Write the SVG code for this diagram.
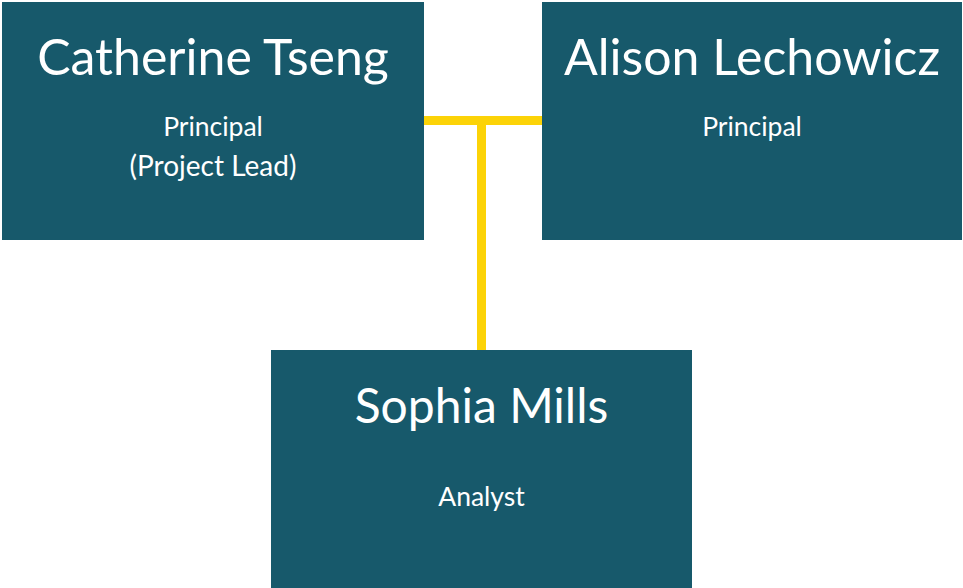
<svg xmlns="http://www.w3.org/2000/svg" width="963" height="588" viewBox="0 0 963 588">
<style>
.box{fill:#17596B}
.name{font-family:Lato,"Open Sans",sans-serif;font-size:50px;fill:#ffffff;text-anchor:middle}
.role{font-family:Lato,"Open Sans",sans-serif;font-size:26.5px;fill:#ffffff;text-anchor:middle}
.conn{stroke:#FCD307;stroke-width:9;fill:none}
</style>
<rect width="963" height="588" fill="#ffffff"/>
<g id="connectors">
<line class="conn" x1="424" y1="120.5" x2="542" y2="120.5"/>
<line class="conn" x1="481.5" y1="120" x2="481.5" y2="350"/>
</g>
<g id="catherine">
<rect class="box" x="2" y="2" width="422" height="238"/>
<text class="name" x="213" y="75">Catherine Tseng</text>
<text class="role" x="213" y="136">Principal</text>
<text class="role" x="213" y="176" style="font-size:28px">(Project Lead)</text>
</g>
<g id="alison">
<rect class="box" x="542" y="2" width="420" height="238"/>
<text class="name" x="752" y="75">Alison Lechowicz</text>
<text class="role" x="752" y="136">Principal</text>
</g>
<g id="sophia">
<rect class="box" x="271" y="350" width="421" height="238"/>
<text class="name" x="481.5" y="423" style="font-size:48px">Sophia Mills</text>
<text class="role" x="481.5" y="506">Analyst</text>
</g>
</svg>
